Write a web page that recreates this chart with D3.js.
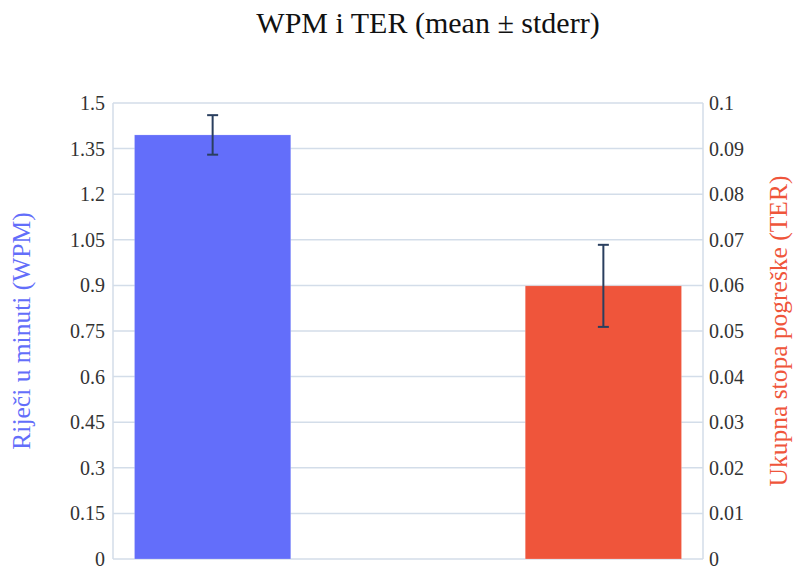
<!DOCTYPE html>
<head>
<meta charset="utf-8">
<style>
  body { margin: 0; background: white; }
  svg text { font-family: 'Liberation Serif', 'Times New Roman', serif !important; }
  .tick text { fill: #333; font-size: 20px; }
  .grid line { stroke: #d3dde9; stroke-width: 1.5; }
</style>
</head>
<body>
<script src="https://d3js.org/d3.v7.min.js"></script>
<script>
// DATA
var metrics = ['WPM', 'TER'];
var means = [1.395, 0.0599];
var stderrs = [0.065, 0.009];
var colors = ['#636efa', '#ef553b'];
var axisTitles = ['Riječi u minuti (WPM)', 'Ukupna stopa pogreške (TER)'];
var wpmTicks = [0, 0.15, 0.3, 0.45, 0.6, 0.75, 0.9, 1.05, 1.2, 1.35, 1.5];
var terTicks = [0, 0.01, 0.02, 0.03, 0.04, 0.05, 0.06, 0.07, 0.08, 0.09, 0.1];

// DIMENSIONS
var width = 795, height = 567;
var margin = {top: 103, right: 92, bottom: 8, left: 113};

var svg = d3.select('body').append('svg')
    .attr('width', width)
    .attr('height', height);

// SCALES
var xScale = d3.scaleBand(metrics, [margin.left, width - margin.right])
    .paddingInner(0.6)
    .paddingOuter(0.055);
var yLeft = d3.scaleLinear([0, 1.5], [height - margin.bottom, margin.top]);
var yRight = d3.scaleLinear([0, 0.1], [height - margin.bottom, margin.top]);
var yScales = [yLeft, yRight];

// GRID
svg.append('g')
    .attr('class', 'grid')
    .selectAll('line')
    .data(wpmTicks)
    .join('line')
    .attr('x1', margin.left)
    .attr('x2', width - margin.right)
    .attr('y1', d => yLeft(d))
    .attr('y2', d => yLeft(d));

// axis lines
svg.append('g').attr('class', 'grid')
    .selectAll('line')
    .data([margin.left, width - margin.right])
    .join('line')
    .attr('x1', d => d).attr('x2', d => d)
    .attr('y1', margin.top).attr('y2', height - margin.bottom);

// BARS
svg.append('g')
    .selectAll('rect')
    .data(metrics)
    .join('rect')
    .attr('x', d => xScale(d))
    .attr('width', xScale.bandwidth())
    .attr('y', (d, i) => yScales[i](means[i]))
    .attr('height', (d, i) => yScales[i](0) - yScales[i](means[i]))
    .attr('fill', (d, i) => colors[i])
    .attr('stroke', 'white')
    .attr('stroke-opacity', 0.4)
    .attr('stroke-width', 0.5);

// ERROR BARS
var errG = svg.append('g')
    .selectAll('g')
    .data(metrics)
    .join('g')
    .attr('stroke', '#2a3f5f')
    .attr('stroke-width', 2);

errG.append('line')
    .attr('x1', d => xScale(d) + xScale.bandwidth() / 2)
    .attr('x2', d => xScale(d) + xScale.bandwidth() / 2)
    .attr('y1', (d, i) => yScales[i](means[i] + stderrs[i]))
    .attr('y2', (d, i) => yScales[i](means[i] - stderrs[i]));

[1, -1].forEach(function(sign) {
  errG.append('line')
      .attr('x1', d => xScale(d) + xScale.bandwidth() / 2 - 5.5)
      .attr('x2', d => xScale(d) + xScale.bandwidth() / 2 + 5.5)
      .attr('y1', (d, i) => yScales[i](means[i] + sign * stderrs[i]))
      .attr('y2', (d, i) => yScales[i](means[i] + sign * stderrs[i]));
});

// AXES
var leftAxis = svg.append('g')
    .attr('transform', `translate(${margin.left},0)`)
    .call(d3.axisLeft(yLeft).tickValues(wpmTicks).tickSize(0).tickPadding(8).tickFormat(d3.format('')));
leftAxis.select('.domain').remove();

var rightAxis = svg.append('g')
    .attr('transform', `translate(${width - margin.right},0)`)
    .call(d3.axisRight(yRight).tickValues(terTicks).tickSize(0).tickPadding(6).tickFormat(d3.format('')));
rightAxis.select('.domain').remove();
leftAxis.attr('font-family', null).attr('font-size', null);
rightAxis.attr('font-family', null).attr('font-size', null);

// AXIS TITLES
var midY = (margin.top + height - margin.bottom) / 2;
svg.append('text')
    .attr('transform', `translate(30,${midY}) rotate(-90)`)
    .attr('text-anchor', 'middle')
    .attr('fill', colors[0])
    .attr('font-size', 25.5)
    .text(axisTitles[0]);

svg.append('text')
    .attr('transform', `translate(787,${midY}) rotate(-90)`)
    .attr('text-anchor', 'middle')
    .attr('fill', colors[1])
    .attr('font-size', 25.5)
    .text(axisTitles[1]);

// TITLE
svg.append('text')
    .attr('x', 428)
    .attr('y', 33)
    .attr('text-anchor', 'middle')
    .attr('font-size', 30)
    .attr('fill', '#111')
    .text('WPM i TER (mean ± stderr)');
</script>
</body>
